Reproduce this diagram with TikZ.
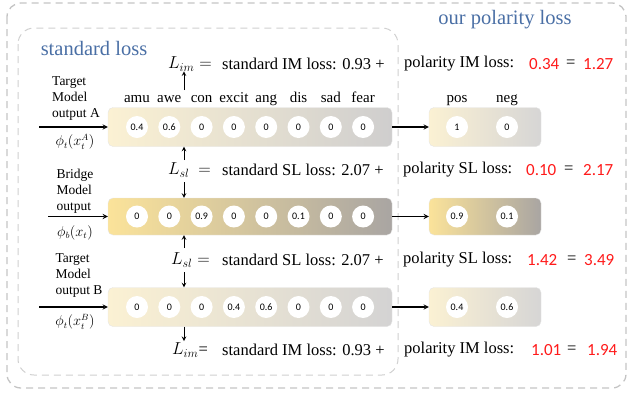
\documentclass[tikz,border=0pt]{standalone}
\usepackage{amsmath}
\usepackage{fontspec}
\setmainfont{Liberation Serif}
\newfontfamily\numfont{Carlito}
\definecolor{headblue}{HTML}{4A6FA5}
\definecolor{lossred}{HTML}{FF1A1A}
\definecolor{boxgray}{HTML}{C4C4C4}
\definecolor{barpale}{HTML}{FBF1D3}
\definecolor{barlight}{HTML}{CFCECE}
\definecolor{barsun}{HTML}{FBE39A}
\definecolor{bardark}{HTML}{A9A5A2}

\begin{document}
\begin{tikzpicture}[x=1pt,y=-1pt,>=stealth,
    bar/.style={rounded corners=5pt,draw=gray!20,minimum height=39pt,inner sep=0pt},
    dot/.style={circle,fill=white,minimum size=22pt,inner sep=0pt,font=\numfont\fontsize{10}{11}\selectfont},
    emo/.style={font=\fontsize{15}{17}\selectfont,text height=1.5ex,text depth=.25ex,inner sep=0pt},
    eq/.style={anchor=west,inner sep=0pt,font=\fontsize{16.5}{19}\selectfont},
    redval/.style={anchor=west,inner sep=0pt,text=lossred,font=\numfont\fontsize{17}{19}\selectfont},
    inlab/.style={align=left,inner sep=0pt,font=\fontsize{13.5}{16}\selectfont},
    head/.style={text=headblue,font=\fontsize{20.5}{23}\selectfont},
    lossarrow/.style={->,line width=1pt},
    passarrow/.style={->,line width=1.3pt}]

\useasboundingbox (0,0) rectangle (629,392);

\draw[boxgray,line width=1.3pt,dash pattern=on 7pt off 5pt,rounded corners=14pt] (7,3) rectangle (626,388);
\draw[boxgray!80,line width=1pt,dash pattern=on 7pt off 5pt,rounded corners=16pt] (18,28) rectangle (398,375);

\node[head] (stdhead) at (94,48) {standard loss};
\node[head] (polhead) at (505,20) {our polarity loss};

\node[bar,minimum width=284pt,left color=barpale,right color=barlight] (barA) at (250,127) {};
\node[bar,minimum width=284pt,minimum height=37pt,left color=barsun,right color=bardark] (barB) at (250,216.5) {};
\node[bar,minimum width=284pt,left color=barpale,right color=barlight!90!white] (barC) at (250,307) {};

\node[bar,minimum width=112pt,left color=barpale,right color=barlight!85!white] (polA) at (485,127) {};
\node[bar,minimum width=112pt,minimum height=37pt,left color=barsun,right color=bardark] (polB) at (485,216.5) {};
\node[bar,minimum width=112pt,left color=barpale,right color=barlight!85!white] (polC) at (485,307) {};

\foreach \e [count=\i] in {amu,awe,con,excit,ang,dis,sad,fear}
  \node[emo] (emo\i) at ({104.7+32.3*\i},100) {\e};
\node[emo] (pos) at (457,100) {pos};
\node[emo] (neg) at (507,100) {neg};

\foreach \v [count=\i] in {0.4,0.6,0,0,0,0,0,0}
  \node[dot] (a\i) at ({104.7+32.3*\i},127) {\v};
\foreach \v [count=\i] in {0,0,0.9,0,0,0.1,0,0}
  \node[dot] (b\i) at ({104.7+32.3*\i},216.5) {\v};
\foreach \v [count=\i] in {0,0,0,0.4,0.6,0,0,0}
  \node[dot] (c\i) at ({104.7+32.3*\i},307) {\v};

\node[dot] (pa1) at (457,127) {1};
\node[dot] (pa2) at (507,127) {0};
\node[dot] (pb1) at (457,216.5) {0.9};
\node[dot] (pb2) at (507,216.5) {0.1};
\node[dot] (pc1) at (457,307) {0.4};
\node[dot] (pc2) at (507,307) {0.6};

\draw[passarrow] (barA) -- (polA);
\draw[passarrow] (barB) -- (polB);
\draw[passarrow] (barC) -- (polC);

\node[inlab] (labA) at (76,99) {Target\\Model\\output A};
\node[inlab] (phiA) at (75,142) {$\phi_t(x_t^A)$};
\node[inlab] (labB) at (75,191) {Bridge\\Model\\output};
\node[inlab] (phiB) at (75,233) {$\phi_b(x_t)$};
\node[inlab] (labC) at (79,276) {Target\\Model\\output B};
\node[inlab] (phiC) at (75,322) {$\phi_t(x_t^B)$};

\coordinate (inA) at (39,127);
\coordinate (inB) at (48,216.5);
\coordinate (inC) at (39,307);
\draw[passarrow] (inA) -- (barA.west);
\draw[passarrow] (inB) -- (barB.west);
\draw[passarrow] (inC) -- (barC.west);

\node[eq] (L1) at (168,64) {$L_{im}=$};
\node[eq] (s1) at (222,64) {standard IM loss: 0.93 +};
\node[eq] (p1) at (404,64) {polarity IM loss:};
\node[redval] (r1a) at (529,64) {0.34};
\node[eq] (q1) at (566,64) {=};
\node[redval] (r1b) at (583,64) {1.27};

\node[eq] (L2) at (168,170) {$L_{sl}\ =$};
\node[eq] (s2) at (222,170) {standard SL loss: 2.07 +};
\node[eq] (p2) at (403,170) {polarity SL loss:};
\node[redval] (r2a) at (526,170) {0.10};
\node[eq] (q2) at (564,170) {=};
\node[redval] (r2b) at (583,170) {2.17};

\node[eq] (L3) at (171,260) {$L_{sl}=$};
\node[eq] (s3) at (222,260) {standard SL loss: 2.07 +};
\node[eq] (p3) at (403,260) {polarity SL loss:};
\node[redval] (r3a) at (527,260) {1.42};
\node[eq] (q3) at (567,260) {=};
\node[redval] (r3b) at (584,260) {3.49};

\node[eq] (L4) at (172,350) {$L_{im}$=};
\node[eq] (s4) at (222,350) {standard IM loss: 0.93 +};
\node[eq] (p4) at (404,350) {polarity IM loss:};
\node[redval] (r4a) at (531,350) {1.01};
\node[eq] (q4) at (567,350) {=};
\node[redval] (r4b) at (587,350) {1.94};

\coordinate (imA) at (184,90);
\coordinate (slAu) at (184,160);
\coordinate (slAd) at (184,182);
\coordinate (slCu) at (184,248);
\coordinate (slCd) at (184,272);
\coordinate (imC) at (184,341);
\draw[lossarrow] (imA) -- (imA |- L1.south);
\draw[lossarrow] (slAu) -- (slAu |- barA.south);
\draw[lossarrow] (slAd) -- (slAd |- barB.north);
\draw[lossarrow] (slCu) -- (slCu |- barB.south);
\draw[lossarrow] (slCd) -- (slCd |- barC.north);
\draw[lossarrow] (imC |- barC.south) -- (imC);
\end{tikzpicture}
\end{document}
